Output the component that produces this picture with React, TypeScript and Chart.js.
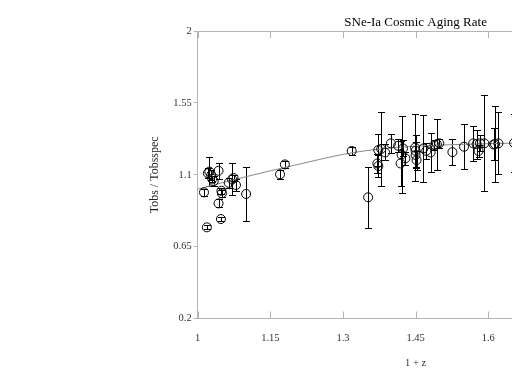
import React, { useEffect, useRef } from "react";
import { Chart, registerables } from "chart.js";

Chart.register(...registerables);

const TITLE = "SNe-Ia Cosmic Aging Rate";
const X_LABEL = "1 + z";
const Y_LABEL = "Tobs / Tobsspec";
const X_TICKS = [1, 1.15, 1.3, 1.45, 1.6, 1.75, 1.9];
const Y_TICKS = [0.2, 0.65, 1.1, 1.55, 2];

// Supernova measurements: redshift factor, ratio, symmetric error
const SN_X = [
  1.013, 1.019, 1.021, 1.024, 1.028, 1.03, 1.033, 1.043, 1.043, 1.048,
  1.049, 1.05, 1.064, 1.071, 1.074, 1.079, 1.1, 1.17, 1.18, 1.318,
  1.352, 1.371, 1.373, 1.373, 1.379, 1.387, 1.399, 1.414, 1.419, 1.421,
  1.424, 1.429, 1.449, 1.45, 1.45, 1.452, 1.466, 1.472, 1.481, 1.489,
  1.494, 1.499, 1.526, 1.55, 1.569, 1.576, 1.58, 1.583, 1.592, 1.611,
  1.614, 1.621, 1.6535,
];
const SN_Y = [
  0.99, 0.771, 1.11, 1.12, 1.098, 1.075, 1.06, 1.125, 0.921, 0.823,
  1.0, 0.984, 1.05, 1.071, 1.08, 1.036, 0.98, 1.103, 1.165, 1.249,
  0.959, 1.171, 1.155, 1.255, 1.262, 1.24, 1.297, 1.282, 1.171, 1.226,
  1.265, 1.203, 1.27, 1.25, 1.224, 1.192, 1.265, 1.25, 1.24, 1.286,
  1.292, 1.297, 1.242, 1.276, 1.297, 1.292, 1.249, 1.297, 1.297, 1.29,
  1.292, 1.297, 1.3,
];
const SN_ERR = [
  0.02, 0.012, 0.03, 0.09, 0.03, 0.02, 0.03, 0.05, 0.025, 0.015,
  0.02, 0.02, 0.03, 0.1, 0.02, 0.04, 0.17, 0.03, 0.02, 0.028,
  0.19, 0.06, 0.07, 0.1, 0.23, 0.05, 0.06, 0.04, 0.14, 0.242,
  0.05, 0.04, 0.21, 0.1, 0.08, 0.06, 0.21, 0.05, 0.12, 0.03,
  0.16, 0.03, 0.08, 0.14, 0.11, 0.09, 0.04, 0.05, 0.3, 0.1,
  0.24, 0.195, 0.18,
];

// Model curve
const FIT_X = [1.0, 1.05, 1.1, 1.15, 1.2, 1.25, 1.3, 1.35, 1.4, 1.45, 1.5, 1.55, 1.6, 1.65, 1.7, 1.75, 1.8, 1.85, 1.9];
const FIT_Y = [1.01, 1.05, 1.088, 1.125, 1.16, 1.195, 1.228, 1.252, 1.268, 1.279, 1.286, 1.291, 1.295, 1.298, 1.3, 1.301, 1.302, 1.303, 1.303];

const FONT = "'Liberation Serif', 'Times New Roman', serif";
const AXIS_GREY = "#b4b4b4";
const CANVAS_W = 700;
const CANVAS_H = 376;

const errorBarPlugin = {
  id: "errorBars",
  beforeDatasetsDraw(chart: any) {
    const { ctx } = chart;
    const xs = chart.scales.x;
    const ys = chart.scales.y;
    ctx.save();
    ctx.strokeStyle = "#000";
    ctx.lineWidth = 1;
    SN_X.forEach((x, i) => {
      const px = Math.round(xs.getPixelForValue(x)) + 0.5;
      const top = Math.round(ys.getPixelForValue(SN_Y[i] + SN_ERR[i])) + 0.5;
      const bot = Math.round(ys.getPixelForValue(SN_Y[i] - SN_ERR[i])) + 0.5;
      ctx.beginPath();
      ctx.moveTo(px, top);
      ctx.lineTo(px, bot);
      ctx.moveTo(px - 3.5, top);
      ctx.lineTo(px + 3.5, top);
      ctx.moveTo(px - 3.5, bot);
      ctx.lineTo(px + 3.5, bot);
      ctx.stroke();
    });
    ctx.restore();
  },
};

const framePlugin = {
  id: "frame",
  beforeDatasetsDraw(chart: any) {
    const { ctx, chartArea } = chart;
    const xs = chart.scales.x;
    const { left, right, top, bottom } = chartArea;
    ctx.save();
    ctx.strokeStyle = AXIS_GREY;
    ctx.lineWidth = 1;
    ctx.beginPath();
    ctx.moveTo(left, Math.round(top) + 0.5);
    ctx.lineTo(right, Math.round(top) + 0.5);
    ctx.moveTo(Math.round(right) + 0.5, top);
    ctx.lineTo(Math.round(right) + 0.5, bottom);
    X_TICKS.forEach((v) => {
      const px = Math.round(xs.getPixelForValue(v)) + 0.5;
      ctx.moveTo(px, bottom);
      ctx.lineTo(px, bottom - 7);
      ctx.moveTo(px, top);
      ctx.lineTo(px, top + 7);
    });
    ctx.stroke();
    ctx.restore();
  },
};

export default function App() {
  const ref = useRef<HTMLCanvasElement | null>(null);

  useEffect(() => {
    if (!ref.current) return;
    const chart = new Chart(ref.current, {
      type: "scatter",
      data: {
        datasets: [
          {
            type: "scatter",
            data: SN_X.map((x, i) => ({ x, y: SN_Y[i] })),
            pointRadius: 4.5,
            pointHoverRadius: 4.5,
            pointBorderColor: "#000",
            pointBackgroundColor: "rgba(0,0,0,0)",
            pointBorderWidth: 1,
          } as any,
          {
            type: "line",
            data: FIT_X.map((x, i) => ({ x, y: FIT_Y[i] })),
            borderColor: "#8a8a8a",
            borderWidth: 1,
            pointRadius: 0,
            fill: false,
            cubicInterpolationMode: "monotone",
          } as any,
        ],
      },
      options: {
        responsive: false,
        animation: false,
        events: [],
        layout: {
          autoPadding: false,
          padding: { left: 143.5, right: CANVAS_W - 633.5, top: 0, bottom: 0 },
        } as any,
        plugins: {
          legend: { display: false },
          tooltip: { enabled: false },
          title: {
            display: true,
            text: TITLE,
            fullSize: false,
            color: "#000",
            font: { family: FONT, size: 13, weight: "normal" },
            padding: { top: 15, bottom: 0.5 },
          },
        },
        scales: {
          x: {
            type: "linear",
            min: 1,
            max: 1.9,
            afterBuildTicks: (s: any) => {
              s.ticks = X_TICKS.map((v) => ({ value: v }));
            },
            afterFit: (s: any) => {
              s.height = 57.5;
            },
            ticks: {
              font: { family: FONT, size: 10.5 },
              color: "#333",
              padding: 5,
              maxRotation: 0,
              autoSkip: false,
              callback: (v: any) => String(v),
            },
            grid: { display: false },
            border: { display: true, color: AXIS_GREY },
            title: {
              display: true,
              text: X_LABEL,
              color: "#333",
              font: { family: FONT, size: 10.5 },
              padding: { top: 0, bottom: 6.7 },
            },
          },
          y: {
            type: "linear",
            min: 0.2,
            max: 2,
            afterBuildTicks: (s: any) => {
              s.ticks = Y_TICKS.map((v) => ({ value: v }));
            },
            afterFit: (s: any) => {
              s.width = 54.2;
            },
            ticks: {
              font: { family: FONT, size: 10.5 },
              color: "#333",
              padding: 2,
              autoSkip: false,
              callback: (v: any) => String(v),
            },
            grid: {
              display: true,
              drawOnChartArea: false,
              drawTicks: true,
              tickLength: 4,
              color: AXIS_GREY,
            },
            border: { display: true, color: AXIS_GREY },
            title: {
              display: true,
              text: Y_LABEL,
              color: "#222",
              font: { family: FONT, size: 12 },
              padding: { top: 4, bottom: 0 },
            },
          },
        },
      } as any,
      plugins: [framePlugin, errorBarPlugin],
    });
    return () => chart.destroy();
  }, []);

  return (
    <div
      style={{
        position: "fixed",
        left: 0,
        top: 0,
        width: 512,
        height: 376,
        overflow: "hidden",
        background: "#fff",
      }}
    >
      <canvas ref={ref} width={CANVAS_W} height={CANVAS_H} style={{ display: "block" }} />
    </div>
  );
}
